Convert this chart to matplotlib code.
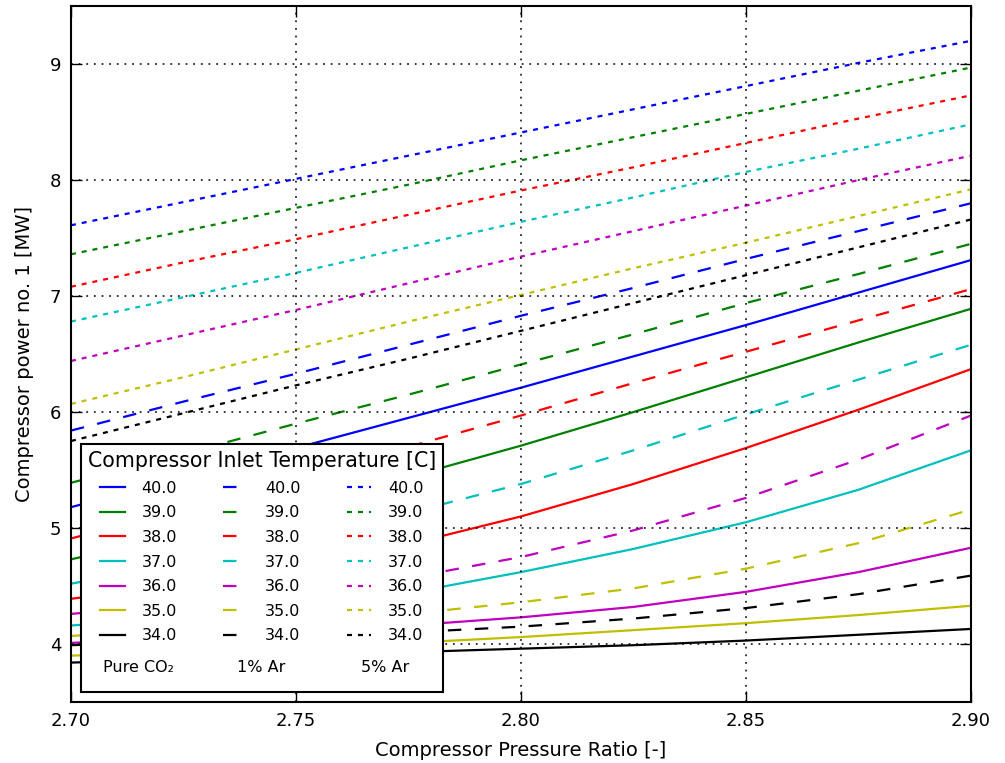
import matplotlib
matplotlib.use('Agg')
import matplotlib.pyplot as plt
from matplotlib.legend_handler import HandlerBase
from matplotlib.lines import Line2D
from matplotlib.text import Text

pressure_ratio = [2.70, 2.725, 2.75, 2.775, 2.80, 2.825, 2.85, 2.875, 2.90]
inlet_temps = [40.0, 39.0, 38.0, 37.0, 36.0, 35.0, 34.0]
line_colors = ['b', 'g', 'r', 'c', 'm', 'y', 'k']

# compressor power [MW], one row per inlet temperature (40 C down to 34 C)
power_pure_co2 = [
    [5.18, 5.43, 5.69, 5.95, 6.21, 6.48, 6.75, 7.03, 7.31],
    [4.73, 4.95, 5.19, 5.44, 5.71, 6.00, 6.30, 6.60, 6.89],
    [4.39, 4.51, 4.66, 4.86, 5.10, 5.38, 5.69, 6.02, 6.37],
    [4.16, 4.22, 4.31, 4.44, 4.62, 4.82, 5.05, 5.33, 5.67],
    [4.01, 4.05, 4.10, 4.16, 4.23, 4.32, 4.45, 4.62, 4.83],
    [3.90, 3.93, 3.97, 4.01, 4.06, 4.12, 4.18, 4.25, 4.33],
    [3.84, 3.87, 3.90, 3.93, 3.96, 3.99, 4.03, 4.08, 4.13],
]
power_1pct_ar = [
    [5.84, 6.09, 6.33, 6.58, 6.83, 7.07, 7.32, 7.56, 7.80],
    [5.39, 5.64, 5.90, 6.15, 6.41, 6.67, 6.94, 7.19, 7.45],
    [4.91, 5.16, 5.43, 5.70, 5.97, 6.25, 6.52, 6.79, 7.06],
    [4.52, 4.70, 4.90, 5.13, 5.38, 5.67, 5.98, 6.28, 6.58],
    [4.26, 4.34, 4.44, 4.57, 4.75, 4.98, 5.26, 5.59, 5.97],
    [4.07, 4.12, 4.18, 4.26, 4.36, 4.48, 4.65, 4.87, 5.16],
    [3.99, 4.02, 4.06, 4.10, 4.15, 4.22, 4.31, 4.43, 4.59],
]
power_5pct_ar = [
    [7.61, 7.81, 8.01, 8.21, 8.41, 8.61, 8.81, 9.01, 9.20],
    [7.36, 7.56, 7.76, 7.96, 8.17, 8.37, 8.57, 8.77, 8.97],
    [7.08, 7.29, 7.49, 7.70, 7.91, 8.11, 8.32, 8.53, 8.73],
    [6.78, 6.99, 7.20, 7.42, 7.64, 7.85, 8.07, 8.27, 8.48],
    [6.44, 6.66, 6.88, 7.11, 7.34, 7.56, 7.78, 8.00, 8.21],
    [6.07, 6.30, 6.54, 6.78, 7.01, 7.24, 7.46, 7.69, 7.92],
    [5.75, 5.99, 6.23, 6.46, 6.70, 6.94, 7.18, 7.42, 7.66],
]
xticks = [2.70, 2.75, 2.80, 2.85, 2.90]
yticks = [4, 5, 6, 7, 8, 9]


class GroupLabel(HandlerBase):
    """Legend 'handle' that just writes the gas name, centred in its column."""

    def __init__(self, text):
        super().__init__()
        self.text = text

    def create_artists(self, legend, orig_handle, xdescent, ydescent,
                       width, height, fontsize, trans):
        x = -xdescent + (width + legend.handletextpad * fontsize + 2.2 * fontsize) / 2
        y = -ydescent + height / 2 + 0.1 * fontsize
        t = Text(x, y, self.text, ha='center', va='center',
                 fontsize=fontsize, transform=trans)
        return [t]


plt.rcParams['lines.scale_dashes'] = False
plt.rcParams['font.family'] = 'DejaVu Sans'

fig = plt.figure(figsize=(10.05, 7.63), dpi=100)
ax = fig.add_axes([0.0706, 0.0799, 0.8956, 0.9122])

groups = [
    (power_pure_co2, None, 'Pure CO₂'),
    (power_1pct_ar, (9.7, 9.7), '1% Ar'),
    (power_5pct_ar, (3.6, 4.3), '5% Ar'),
]
handles, labels, hmap = [], [], {}
for values, dashes, name in groups:
    for temp, color, row in zip(inlet_temps, line_colors, values):
        line, = ax.plot(pressure_ratio, row, color=color, lw=1.6)
        if dashes:
            line.set_dashes(dashes)
        handles.append(line)
        labels.append(f'{temp:.1f}')
    key = Line2D([], [])
    hmap[key] = GroupLabel(name)
    handles.append(key)
    labels.append('\n')

ax.set_xlim(2.70, 2.90)
ax.set_ylim(3.5, 9.5)
ax.set_xticks(xticks)
ax.set_xticklabels([f'{v:.2f}' for v in xticks])
ax.set_yticks(yticks)
ax.grid(True, color='k', linestyle=(0, (1.3, 4.2)), lw=1.1)
ax.set_axisbelow(False)
ax.tick_params(direction='in', top=True, right=True, length=8, width=1,
               labelsize=13, pad=7)
for sp in ax.spines.values():
    sp.set_linewidth(1.5)

ax.set_xlabel('Compressor Pressure Ratio [-]', fontsize=14, labelpad=8)
ax.set_ylabel('Compressor power no. 1 [MW]', fontsize=14, labelpad=11)

leg = ax.legend(handles, labels, ncol=3, loc='lower left',
                title='Compressor Inlet Temperature [C]', title_fontsize=14.8,
                fontsize=11.5, handlelength=1.55, handletextpad=1.05,
                columnspacing=2.9, labelspacing=0.6, borderpad=0.45,
                borderaxespad=0.6, fancybox=False, framealpha=1,
                edgecolor='k', handler_map=hmap)
leg.get_frame().set_linewidth(1.5)

fig.savefig('out.png', dpi=100)
